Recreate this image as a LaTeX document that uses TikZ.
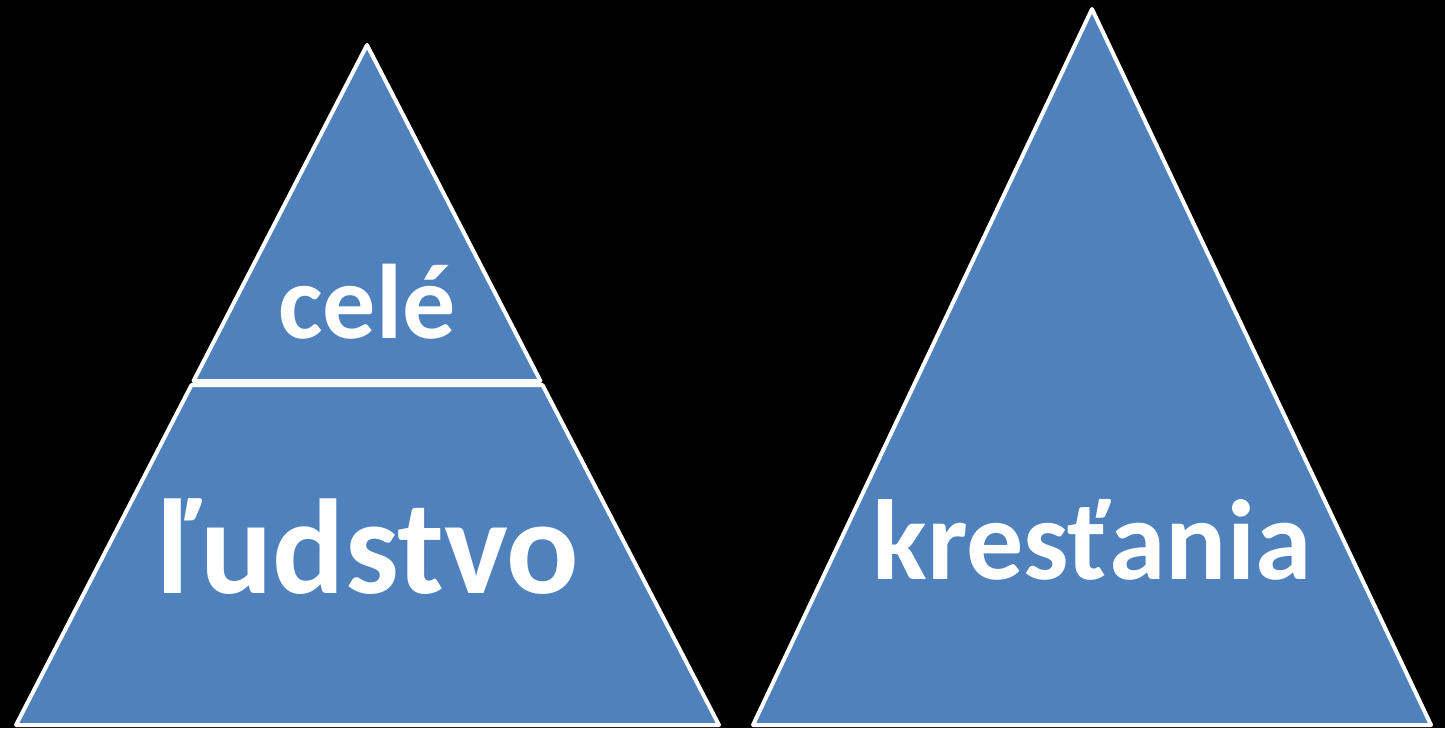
\documentclass[tikz,border=0pt]{standalone}
\usepackage{fontspec}
\setmainfont{Carlito}
\definecolor{fillblue}{HTML}{4F81BD}
\tikzset{
  piece/.style={fill=fillblue, draw=white, line width=4pt, line join=round},
  lbl/.style={text=white, font=\bfseries, anchor=base, inner sep=0pt}
}
\begin{document}
\begin{tikzpicture}[x=1pt,y=-1pt]
\fill[black] (0,0) rectangle (1445,728);
\useasboundingbox (0,0) rectangle (1445,728);
% left pyramid
\coordinate (Lapex) at (367,45);
\coordinate (Ltl) at (193.5,381);
\coordinate (Ltr) at (540.5,381);
\coordinate (Lbl) at (191.5,385);
\coordinate (Lbr) at (542.5,385);
\coordinate (Lbasel) at (16,725);
\coordinate (Lbaser) at (719,725);
\draw[piece] (Lapex) -- (Ltr) -- (Ltl) -- cycle;
\draw[piece] (Lbl) -- (Lbr) -- (Lbaser) -- (Lbasel) -- cycle;
% right pyramid
\coordinate (Rapex) at (1092,9);
\coordinate (Rbl) at (753,725);
\coordinate (Rbr) at (1431,725);
\draw[piece] (Rapex) -- (Rbr) -- (Rbl) -- cycle;
% labels
\node[lbl, font=\fontsize{106}{120}\selectfont\bfseries] (cele) at (367,338) {celé};
\node[lbl, font=\fontsize{135}{150}\selectfont\bfseries] (ludstvo) at (369,593) {ľudstvo};
\node[lbl, font=\fontsize{114}{130}\selectfont\bfseries] (krestania) at (1092,579) {kresťania};
\end{tikzpicture}
\end{document}
